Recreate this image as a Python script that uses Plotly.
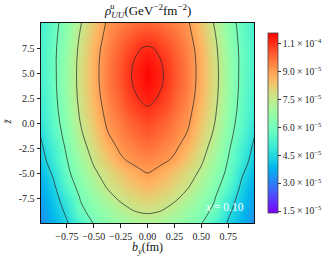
import numpy as np
import plotly.graph_objects as go

# transverse position b_y (fm) grid and longitudinal z~ grid
b_y = [-1.0, -0.875, -0.75, -0.625, -0.5, -0.375, -0.25, -0.1875, -0.125, -0.0625, 0.0,
       0.0625, 0.125, 0.1875, 0.25, 0.375, 0.5, 0.625, 0.75, 0.875, 1.0]
z_t = [-10.0, -8.75, -7.5, -6.25, -5.0, -3.75, -2.5, -1.25, 0.0,
       1.25, 2.5, 3.75, 5.0, 6.25, 7.5, 8.75, 10.0]

# rho values in units of 1e-5 GeV^-2 fm^-2, one row per z~ (b_y from -1 to 1)
row_m10_00 = [3.15, 3.79, 4.42, 5.26, 6.05, 6.39, 6.70, 6.85, 6.97, 7.10, 7.15, 7.10, 6.97, 6.85, 6.70, 6.39, 6.05, 5.26, 4.42, 3.79, 3.15]
row_m08_75 = [3.30, 3.97, 4.69, 5.84, 6.28, 6.74, 7.18, 7.37, 7.52, 7.59, 7.62, 7.59, 7.52, 7.37, 7.18, 6.74, 6.28, 5.84, 4.69, 3.97, 3.30]
row_m07_50 = [3.45, 4.14, 5.01, 6.04, 6.62, 7.20, 7.66, 7.82, 7.95, 8.08, 8.15, 8.08, 7.95, 7.82, 7.66, 7.20, 6.62, 6.04, 5.01, 4.14, 3.45]
row_m06_25 = [3.65, 4.34, 5.55, 6.29, 6.98, 7.60, 8.01, 8.20, 8.36, 8.51, 8.60, 8.51, 8.36, 8.20, 8.01, 7.60, 6.98, 6.29, 5.55, 4.34, 3.65]
row_m05_00 = [3.85, 4.63, 5.80, 6.55, 7.33, 7.89, 8.34, 8.55, 8.73, 8.90, 9.00, 8.90, 8.73, 8.55, 8.34, 7.89, 7.33, 6.55, 5.80, 4.63, 3.85]
row_m03_75 = [4.10, 4.95, 5.96, 6.82, 7.63, 8.25, 8.86, 9.03, 9.16, 9.25, 9.30, 9.25, 9.16, 9.03, 8.86, 8.25, 7.63, 6.82, 5.96, 4.95, 4.10]
row_m02_50 = [4.30, 5.10, 6.15, 7.07, 7.88, 8.60, 9.14, 9.29, 9.41, 9.53, 9.60, 9.53, 9.41, 9.29, 9.14, 8.60, 7.88, 7.07, 6.15, 5.10, 4.30]
row_m01_25 = [4.48, 5.39, 6.33, 7.32, 8.14, 8.92, 9.34, 9.52, 9.67, 9.81, 9.90, 9.81, 9.67, 9.52, 9.34, 8.92, 8.14, 7.32, 6.33, 5.39, 4.48]
row_p00_00 = [4.75, 5.56, 6.48, 7.50, 8.34, 9.10, 9.53, 9.73, 9.90, 10.05, 10.15, 10.05, 9.90, 9.73, 9.53, 9.10, 8.34, 7.50, 6.48, 5.56, 4.75]
row_p01_25 = [4.90, 5.67, 6.60, 7.63, 8.51, 9.23, 9.71, 9.95, 10.15, 10.30, 10.40, 10.30, 10.15, 9.95, 9.71, 9.23, 8.51, 7.63, 6.60, 5.67, 4.90]
row_p02_50 = [5.00, 5.73, 6.69, 7.73, 8.63, 9.35, 9.90, 10.15, 10.38, 10.57, 10.70, 10.57, 10.38, 10.15, 9.90, 9.35, 8.63, 7.73, 6.69, 5.73, 5.00]
row_p03_75 = [5.10, 5.78, 6.75, 7.78, 8.69, 9.43, 10.02, 10.30, 10.55, 10.72, 10.90, 10.72, 10.55, 10.30, 10.02, 9.43, 8.69, 7.78, 6.75, 5.78, 5.10]
row_p05_00 = [5.15, 5.79, 6.75, 7.79, 8.71, 9.45, 10.05, 10.32, 10.60, 10.78, 11.00, 10.78, 10.60, 10.32, 10.05, 9.45, 8.71, 7.79, 6.75, 5.79, 5.15]
row_p06_25 = [5.20, 5.81, 6.73, 7.76, 8.70, 9.42, 10.00, 10.25, 10.50, 10.68, 10.85, 10.68, 10.50, 10.25, 10.00, 9.42, 8.70, 7.76, 6.73, 5.81, 5.20]
row_p07_50 = [5.20, 5.79, 6.67, 7.69, 8.63, 9.35, 9.85, 10.07, 10.26, 10.49, 10.55, 10.49, 10.26, 10.07, 9.85, 9.35, 8.63, 7.69, 6.67, 5.79, 5.20]
row_p08_75 = [5.15, 5.74, 6.57, 7.57, 8.49, 9.22, 9.67, 9.85, 10.01, 10.14, 10.20, 10.14, 10.01, 9.85, 9.67, 9.22, 8.49, 7.57, 6.57, 5.74, 5.15]
row_p10_00 = [5.10, 5.69, 6.46, 7.42, 8.32, 9.09, 9.41, 9.54, 9.66, 9.75, 9.80, 9.75, 9.66, 9.54, 9.41, 9.09, 8.32, 7.42, 6.46, 5.69, 5.10]

rho = [row_m10_00, row_m08_75, row_m07_50, row_m06_25, row_m05_00, row_m03_75,
       row_m02_50, row_m01_25, row_p00_00, row_p01_25, row_p02_50, row_p03_75,
       row_p05_00, row_p06_25, row_p07_50, row_p08_75, row_p10_00]

cbar_vals = [1.5, 3.0, 4.5, 6.0, 7.5, 9.0, 10.5]
cbar_text = ["1.5 × 10<sup>−5</sup>", "3.0 × 10<sup>−5</sup>", "4.5 × 10<sup>−5</sup>",
             "6.0 × 10<sup>−5</sup>", "7.5 × 10<sup>−5</sup>", "9.0 × 10<sup>−5</sup>",
             "1.1 × 10<sup>−4</sup>"]
x_ticks = [-0.75, -0.5, -0.25, 0.0, 0.25, 0.5, 0.75]
x_text = ["−0.75", "−0.50", "−0.25", "0.00", "0.25", "0.50", "0.75"]
y_ticks = [-7.5, -5.0, -2.5, 0.0, 2.5, 5.0, 7.5]
y_text = ["-7.5", "-5.0", "-2.5", "0.0", "2.5", "5.0", "7.5"]

# matplotlib 'rainbow' colormap
def rainbow(t):
    r = min(max(abs(2 * t - 0.5), 0), 1)
    g = np.sin(np.pi * t)
    b = np.cos(np.pi * t / 2)
    return "rgb(%d,%d,%d)" % (round(r * 255), round(max(g, 0) * 255), round(max(b, 0) * 255))

cscale = [[t, rainbow(t)] for t in np.linspace(0, 1, 33)]

SERIF = "Liberation Serif, Times New Roman, serif"

fig = go.Figure()
fig.add_trace(go.Heatmap(
    x=b_y, y=z_t, z=rho, zsmooth="best", colorscale=cscale,
    zmin=1.4, zmax=11.05,
    colorbar=dict(
        x=1.065, xanchor="left", xpad=0, y=0.5, yanchor="middle", len=1.0,
        thickness=10, thicknessmode="pixels", outlinewidth=0.8, outlinecolor="#444",
        tickvals=cbar_vals, ticktext=cbar_text, ticks="outside", ticklen=3,
        tickwidth=0.8, tickcolor="#333",
        tickfont=dict(family=SERIF, size=9.5, color="#222"),
    ),
))
fig.add_trace(go.Contour(
    x=b_y, y=z_t, z=rho,
    contours=dict(coloring="none", start=4.5, end=10.5, size=1.5),
    line=dict(color="rgba(40,40,40,0.9)", width=0.8, smoothing=1.0),
    showscale=False, hoverinfo="skip",
))

fig.update_layout(
    width=335, height=261,
    margin=dict(l=41, r=78, t=23, b=38),
    paper_bgcolor="white", plot_bgcolor="white",
    showlegend=False,
    font=dict(family=SERIF, color="#222"),
    xaxis=dict(range=[-0.99, 0.99], tickvals=x_ticks, ticktext=x_text,
               ticks="outside", ticklen=3.5, tickwidth=0.8, tickcolor="#222",
               showline=True, linecolor="#111", linewidth=1, mirror=True,
               showgrid=False, zeroline=False,
               tickfont=dict(family=SERIF, size=10, color="#222")),
    yaxis=dict(range=[-10, 10], tickvals=y_ticks, ticktext=y_text,
               ticks="outside", ticklen=3.5, tickwidth=0.8, tickcolor="#222",
               showline=True, linecolor="#111", linewidth=1, mirror=True,
               showgrid=False, zeroline=False,
               tickfont=dict(family=SERIF, size=10, color="#222")),
    annotations=[
        dict(xref="paper", yref="paper", x=0.5, y=1.0, yshift=1, xanchor="center", yanchor="bottom",
             text="<i>ρ</i><sub><i>UU</i></sub>(GeV<sup>−2</sup>fm<sup>−2</sup>)",
             showarrow=False, font=dict(family=SERIF, size=13, color="#111")),
        dict(xref="paper", yref="paper", x=(114 - 41) / 216, y=1.0, yshift=10, xanchor="center", yanchor="bottom",
             text="<i>u</i>", showarrow=False, font=dict(family=SERIF, size=9, color="#111")),
        dict(xref="paper", yref="paper", x=0.5, y=0, yshift=-25, xanchor="center", yanchor="middle",
             text="<i>b</i><sub><i>y</i></sub>(fm)", showarrow=False,
             font=dict(family=SERIF, size=12, color="#111")),
        dict(xref="paper", yref="paper", x=(7 - 41) / 216, y=0.505, xanchor="center", yanchor="middle",
             text="<i>z̃</i>", textangle=-90, showarrow=False,
             font=dict(family=SERIF, size=10, color="#111")),
        dict(xref="paper", yref="paper", x=(227 - 41) / 216, y=(223 - 206.5) / 200,
             xanchor="center", yanchor="middle",
             text="<i>x</i> = 0.10", showarrow=False,
             font=dict(family=SERIF, size=11.5, color="white")),
    ],
)

fig.write_html("out.html", config={"displayModeBar": False},
               post_script="document.body.style.margin='0px';")
